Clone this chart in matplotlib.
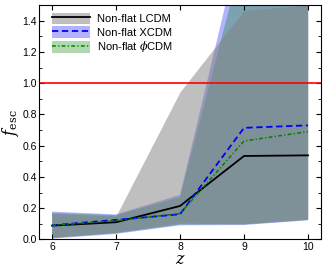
"""f_esc vs redshift for three non-flat cosmologies, bands = 1-sigma ranges."""

import matplotlib

matplotlib.use("Agg")

import matplotlib.pyplot as plt  # noqa: E402
from matplotlib.ticker import MultipleLocator  # noqa: E402

z = [6, 7, 8, 9, 10]

lcdm_mid = [0.088, 0.11, 0.214, 0.534, 0.538]
lcdm_lo = [0.012, 0.044, 0.105, 0.100, 0.129]
lcdm_hi = [0.165, 0.150, 0.944, 1.466, 1.50]

xcdm_mid = [0.09, 0.125, 0.161, 0.714, 0.730]
xcdm_lo = [0.005, 0.035, 0.090, 0.092, 0.122]
xcdm_hi = [0.178, 0.160, 0.285, 2.0, 2.2]

phi_mid = [0.09, 0.12, 0.165, 0.630, 0.690]
phi_lo = [0.010, 0.040, 0.095, 0.096, 0.125]
phi_hi = [0.170, 0.155, 0.270, 1.84, 2.0]

plt.rcParams["font.family"] = ["Liberation Sans", "DejaVu Sans"]
plt.rcParams["mathtext.fontset"] = "dejavuserif"

fig = plt.figure(figsize=(3.27, 2.66), dpi=100)
ax = fig.add_axes([0.12, 0.10, 0.861, 0.881])

fx = ax.fill_between(z, xcdm_lo, xcdm_hi, color="blue", alpha=0.3, lw=0)
fp = ax.fill_between(z, phi_lo, phi_hi, color="green", alpha=0.3, lw=0)
fl = ax.fill_between(z, lcdm_lo, lcdm_hi, color="gray", alpha=0.5, lw=0)

(ll,) = ax.plot(z, lcdm_mid, color="black", lw=1.3)
(lx,) = ax.plot(z, xcdm_mid, color="blue", lw=1.3, ls=(0, (3.5, 2)))
(lp,) = ax.plot(z, phi_mid, color="green", lw=1.1, ls=(0, (2.5, 1.5, 0.8, 1.5)))

ax.axhline(1.0, color="red", lw=1.2)

ax.set_xlim(5.8, 10.2)
ax.set_ylim(0, 1.5)
ax.set_xticks(z)
ax.yaxis.set_major_locator(MultipleLocator(0.2))
ax.yaxis.set_minor_locator(MultipleLocator(0.1))
ax.tick_params(which="both", direction="in", top=True, right=True, labelsize=7.5, pad=1.8)
ax.tick_params(which="major", length=3.5)
ax.tick_params(which="minor", length=2)

ax.set_xlabel("$z$", fontsize=11.5, labelpad=0)
ax.set_ylabel(r"$f_{\rm esc}$", fontsize=11.5, labelpad=1)

ax.legend(
    [(fl, ll), (fx, lx), (fp, lp)],
    ["Non-flat LCDM", "Non-flat XCDM", r"Non-flat $\phi$CDM"],
    loc="upper left",
    bbox_to_anchor=(0.046, 0.968),
    frameon=False,
    fontsize=8,
    handlelength=3.4,
    handleheight=1.25,
    labelspacing=0.15,
    borderaxespad=0,
    borderpad=0,
    handletextpad=0.6,
)

fig.savefig("out.png", dpi=100)
plt.close(fig)
